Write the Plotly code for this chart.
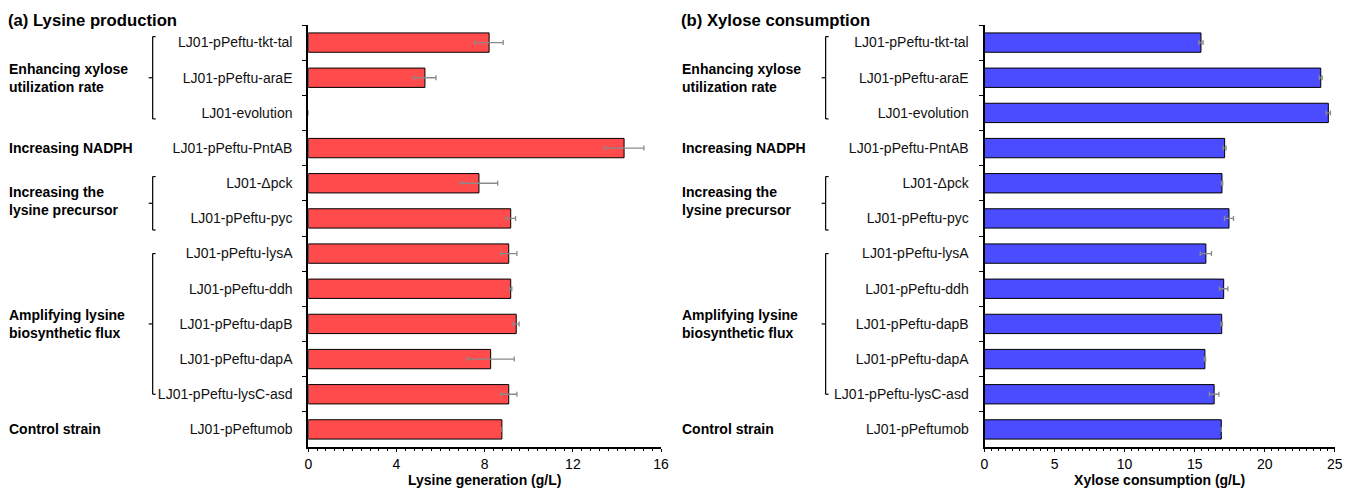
import plotly.graph_objects as go

# Strains, listed top to bottom
strains = [
    "LJ01-pPeftu-tkt-tal", "LJ01-pPeftu-araE", "LJ01-evolution",
    "LJ01-pPeftu-PntAB", "LJ01-Δpck", "LJ01-pPeftu-pyc",
    "LJ01-pPeftu-lysA", "LJ01-pPeftu-ddh", "LJ01-pPeftu-dapB",
    "LJ01-pPeftu-dapA", "LJ01-pPeftu-lysC-asd", "LJ01-pPeftumob",
]

# Lysine generation (g/L) and its error
lysine = [8.2, 5.29, 0, 14.32, 7.74, 9.18, 9.09, 9.18, 9.43, 8.27, 9.09, 8.78]
lysine_err = [0.64, 0.5, None, 0.9, 0.85, 0.22, 0.37, 0.05, 0.13, 1.07, 0.37, None]

# Xylose consumption (g/L) and its error
xylose = [15.45, 24.0, 24.54, 17.14, 16.95, 17.45, 15.8, 17.07, 16.93, 15.73, 16.39, 16.9]
xylose_err = [0.15, 0.1, 0.15, 0.1, 0.05, 0.32, 0.4, 0.3, 0.05, 0.05, 0.34, None]

# Strategy groups: label, first strain index, last strain index
groups = [
    ("Enhancing xylose<br>utilization rate", 0, 2),
    ("Increasing NADPH", 3, 3),
    ("Increasing the<br>lysine precursor", 4, 5),
    ("Amplifying lysine<br>biosynthetic flux", 6, 10),
    ("Control strain", 11, 11),
]
# vertical reach of each bracket beyond its first/last strain
bracket_pad = {0: (0.17, 0.17), 2: (0.19, 0.33), 3: (0.0, 0.0)}

panels = [
    dict(title="(a) Lysine production", values=lysine, errors=lysine_err,
         color="#FF4B4B", xtitle="Lysine generation (g/L)", rng=[0, 16],
         dtick=4, minor=0.4, dom=[307 / 1351, 663 / 1351], x0=8),
    dict(title="(b) Xylose consumption", values=xylose, errors=xylose_err,
         color="#4B4BFF", xtitle="Xylose consumption (g/L)", rng=[0, 25],
         dtick=5, minor=0.5, dom=[989.3 / 1351, 1342.7 / 1351], x0=687),
]

W, H = 1351, 490
FONT = "Liberation Sans, Arial, sans-serif"
ydom = [1 - 447 / H, 1 - 25 / H]

fig = go.Figure()
shapes = []
annotations = []

for i, p in enumerate(panels):
    xa = "x" if i == 0 else f"x{i + 1}"
    ya = "y" if i == 0 else f"y{i + 1}"
    sfx = "" if i == 0 else str(i + 1)

    # empty bars get neither fill nor outline
    outline_w = [1 if v > 0 else 0 for v in p["values"]]
    fills = [p["color"] if v > 0 else "rgba(0,0,0,0)" for v in p["values"]]

    fig.add_trace(go.Bar(
        x=p["values"], y=strains, orientation="h",
        xaxis=xa, yaxis=ya, width=0.55,
        marker=dict(color=fills, line=dict(color="black", width=outline_w)),
        error_x=dict(type="data", array=p["errors"], visible=True,
                     color="#8a8a8a", thickness=1.3, width=2.5),
        showlegend=False, hoverinfo="skip",
    ))

    fig.update_layout(**{
        f"xaxis{sfx}": dict(
            domain=p["dom"], range=p["rng"], anchor=ya,
            showline=True, linecolor="black", linewidth=1.5,
            showgrid=False, zeroline=False,
            ticks="outside", ticklen=3, tickwidth=1, tickcolor="black",
            dtick=p["dtick"], tick0=0,
            minor=dict(dtick=p["minor"], ticks="outside", ticklen=2,
                       tickwidth=1, tickcolor="black", showgrid=False),
            tickfont=dict(family=FONT, size=14, color="black"),
            title=dict(text=f"<b>{p['xtitle']}</b>", standoff=3,
                       font=dict(family=FONT, size=14, color="black")),
            fixedrange=True,
        ),
        f"yaxis{sfx}": dict(
            domain=ydom, anchor=xa,
            categoryorder="array", categoryarray=strains,
            range=[len(strains) - 0.5, -0.5],
            showline=True, linecolor="black", linewidth=2,
            showgrid=False, zeroline=False,
            ticks="outside", ticklen=4, tickwidth=1, tickcolor="black",
            tickson="boundaries", ticklabelstandoff=11,
            tickfont=dict(family=FONT, size=14, color="#111"),
            fixedrange=True,
        ),
    })

    # panel heading
    annotations.append(dict(
        text=f"<b>{p['title']}</b>", xref="paper", yref="paper",
        x=(p["x0"] - 6) / W, y=1 - 20 / H, xanchor="left", yanchor="middle",
        showarrow=False, font=dict(family=FONT, size=16.7, color="black"),
    ))

    # group labels and brackets
    bx = (p["x0"] + 142) / W
    for g, (label, a, b) in enumerate(groups):
        annotations.append(dict(
            text=f"<b>{label}</b>", xref="paper", yref=ya,
            x=(p["x0"] - 5) / W, y=(a + b) / 2, xanchor="left", yanchor="middle",
            align="left", showarrow=False,
            font=dict(family=FONT, size=14, color="black"),
        ))
        if b > a:
            top_pad, bot_pad = bracket_pad[g]
            y0, y1 = a - top_pad, b + bot_pad
            line = dict(color="black", width=1.2)
            shapes.append(dict(type="line", xref="paper", yref=ya,
                               x0=bx, x1=bx, y0=y0, y1=y1, line=line))
            for yy in (y0, y1):
                shapes.append(dict(type="line", xref="paper", yref=ya,
                                   x0=bx, x1=bx + 3 / W, y0=yy, y1=yy, line=line))
            shapes.append(dict(type="line", xref="paper", yref=ya,
                               x0=bx - 4 / W, x1=bx, y0=(y0 + y1) / 2,
                               y1=(y0 + y1) / 2, line=line))

fig.update_layout(
    width=W, height=H,
    margin=dict(l=0, r=0, t=0, b=0),
    paper_bgcolor="white", plot_bgcolor="white",
    bargap=0.45,
    shapes=shapes, annotations=annotations,
    font=dict(family=FONT, color="black"),
)

fig.write_html("out.html", config={"displayModeBar": False})
